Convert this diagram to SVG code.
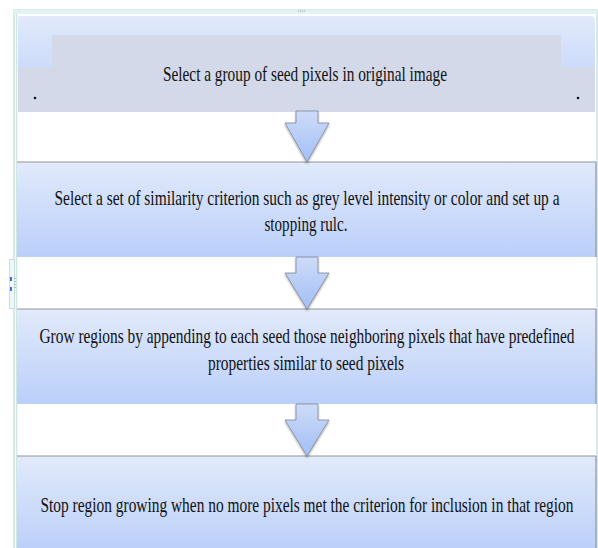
<svg xmlns="http://www.w3.org/2000/svg" width="598" height="548" viewBox="0 0 598 548">
  <style>
    .t { font-family: "Liberation Serif", "Times New Roman", "DejaVu Serif", serif; font-size: 15px; fill: #111; }
    .box { fill: url(#boxGrad); }
    .edge { stroke: #8e949e; stroke-width: 1.2; fill: none; }
    .arrow { fill: url(#arrowGrad); stroke: #7d8797; stroke-width: 0.8; filter: url(#shadow); }
    .grey { fill: #d3d9e8; }
  </style>
  <defs>
    <linearGradient id="boxGrad" x1="0" y1="0" x2="0" y2="1">
      <stop offset="0" stop-color="#e2eafb"/>
      <stop offset="1" stop-color="#bacff9"/>
    </linearGradient>
    <linearGradient id="arrowGrad" x1="0" y1="0" x2="0" y2="1">
      <stop offset="0" stop-color="#cddbf8"/>
      <stop offset="1" stop-color="#a3bff6"/>
    </linearGradient>
    <filter id="shadow" x="-20%" y="-20%" width="140%" height="140%">
      <feDropShadow dx="0" dy="1.5" stdDeviation="1.2" flood-color="#000" flood-opacity="0.35"/>
    </filter>
  </defs>

  <rect width="598" height="548" fill="#ffffff"/>

  <!-- outer frame -->
  <g id="frame">
    <rect x="14" y="10" width="583" height="545" fill="#ffffff" stroke="#b3d3cf" stroke-width="1"/>
    <line x1="16.5" y1="12" x2="16.5" y2="548" stroke="#cfe6e2" stroke-width="1.5"/>
    <rect x="14" y="10" width="583" height="4" fill="#e3f3f4"/>
    <g fill="#a9b6bd">
      <rect x="298" y="10.5" width="1.2" height="1.2"/>
      <rect x="300" y="10.5" width="1.2" height="1.2"/>
      <rect x="302" y="10.5" width="1.2" height="1.2"/>
      <rect x="304" y="10.5" width="1.2" height="1.2"/>
    </g>
    <rect x="9.5" y="259.5" width="5" height="49" fill="#eef8f8" stroke="#c5e0dd" stroke-width="1"/>
    <rect x="10" y="277" width="2" height="4" fill="#3c6fd0"/>
    <rect x="10" y="287" width="2" height="4" fill="#3c6fd0"/>
    <g fill="#b0bcc2">
      <rect x="14" y="278" width="2" height="1"/>
      <rect x="14" y="281" width="2" height="1"/>
      <rect x="14" y="284" width="2" height="1"/>
      <rect x="14" y="287" width="2" height="1"/>
    </g>
  </g>

  <!-- node 1 -->
  <g id="node1">
    <path class="box" d="M18,16 H591 Q595,16 595,20 V111 H18 Z"/>
    <rect class="grey" x="52" y="35" width="509" height="77"/>
    <rect class="grey" x="18" y="67" width="34" height="45"/>
    <rect class="grey" x="561" y="67" width="34" height="45"/>
    <line x1="18" y1="112" x2="561" y2="112" stroke="#8d9098" stroke-width="1.5" filter="url(#shadow)"/>
    <text class="t" transform="translate(305 81) scale(1 1.45)" text-anchor="middle" textLength="284" lengthAdjust="spacingAndGlyphs">Select a group of seed pixels in original image</text>
    <circle cx="35" cy="98" r="1.3" fill="#111"/>
    <circle cx="578" cy="98" r="1.3" fill="#111"/>
  </g>

  <!-- node 2 -->
  <g id="node2">
    <rect class="box" x="17" y="162" width="579" height="95"/>
    <line class="edge" x1="17" y1="162" x2="596" y2="162"/>
    <line class="edge" x1="596" y1="162" x2="596" y2="257"/>
    <line x1="17" y1="257" x2="596" y2="257" stroke="#7f848c" stroke-width="1.5" filter="url(#shadow)"/>
    <text class="t" transform="translate(307 205) scale(1 1.45)" text-anchor="middle" textLength="505" lengthAdjust="spacingAndGlyphs">Select a set of similarity criterion such as grey level intensity or color and set up a</text>
    <text class="t" transform="translate(306 231) scale(1 1.45)" text-anchor="middle" textLength="83" lengthAdjust="spacingAndGlyphs">stopping rulc.</text>
  </g>

  <!-- node 3 -->
  <g id="node3">
    <rect class="box" x="17" y="309" width="579" height="95"/>
    <line class="edge" x1="17" y1="309" x2="596" y2="309"/>
    <line class="edge" x1="596" y1="309" x2="596" y2="404"/>
    <line x1="17" y1="404" x2="596" y2="404" stroke="#7f848c" stroke-width="1.5" filter="url(#shadow)"/>
    <text class="t" transform="translate(307 343) scale(1 1.45)" text-anchor="middle" textLength="535" lengthAdjust="spacingAndGlyphs">Grow regions by appending to each seed those neighboring pixels that have predefined</text>
    <text class="t" transform="translate(306 370) scale(1 1.45)" text-anchor="middle" textLength="196" lengthAdjust="spacingAndGlyphs">properties similar to seed pixels</text>
  </g>

  <!-- node 4 -->
  <g id="node4">
    <rect class="box" x="17" y="456" width="579" height="95"/>
    <line class="edge" x1="17" y1="456" x2="596" y2="456"/>
    <line class="edge" x1="596" y1="456" x2="596" y2="548"/>
    <text class="t" transform="translate(307 512) scale(1 1.45)" text-anchor="middle" textLength="533" lengthAdjust="spacingAndGlyphs">Stop region growing when no more pixels met the criterion for inclusion in that region</text>
  </g>

  <!-- connectors -->
  <g id="connectors">
    <path class="arrow" d="M296,111 H318 V123 H329 L307,162 L285,123 H296 Z"/>
    <path class="arrow" d="M296,257 H318 V273 H329 L307,309 L285,273 H296 Z"/>
    <path class="arrow" d="M296,404 H318 V420 H329 L307,456 L285,420 H296 Z"/>
  </g>
</svg>
